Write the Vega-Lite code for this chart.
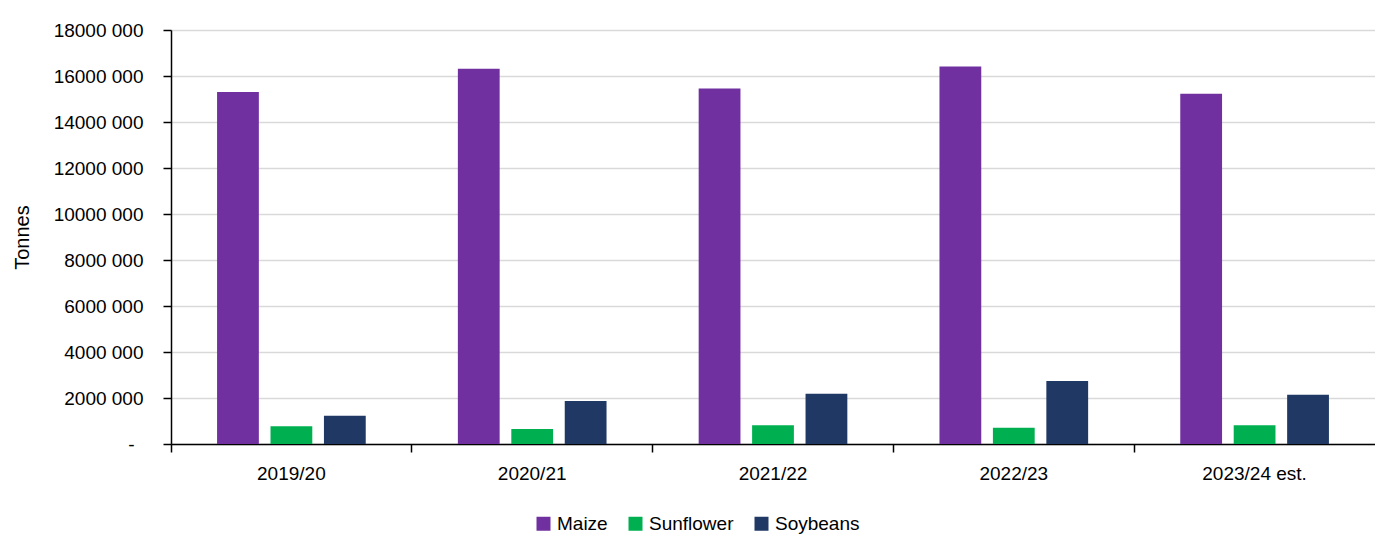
{
  "$schema": "https://vega.github.io/schema/vega-lite/v6.json",
  "autosize": "none",
  "width": 1204,
  "height": 414,
  "padding": {"left": 171, "top": 30, "right": 0, "bottom": 92},
  "background": "white",
  "config": {
    "view": {"stroke": null},
    "font": "Liberation Sans",
    "axis": {"labelFont": "Liberation Sans", "titleFont": "Liberation Sans", "labelColor": "#000000", "titleColor": "#000000", "titleFontWeight": "normal"},
    "legend": {"labelFont": "Liberation Sans", "padding": 0}
  },
  "data": {
    "values": [
      {"season": "2019/20", "crop": "Maize", "tonnes": 15300000},
      {"season": "2019/20", "crop": "Sunflower", "tonnes": 770000},
      {"season": "2019/20", "crop": "Soybeans", "tonnes": 1230000},
      {"season": "2020/21", "crop": "Maize", "tonnes": 16320000},
      {"season": "2020/21", "crop": "Sunflower", "tonnes": 650000},
      {"season": "2020/21", "crop": "Soybeans", "tonnes": 1870000},
      {"season": "2021/22", "crop": "Maize", "tonnes": 15460000},
      {"season": "2021/22", "crop": "Sunflower", "tonnes": 810000},
      {"season": "2021/22", "crop": "Soybeans", "tonnes": 2190000},
      {"season": "2022/23", "crop": "Maize", "tonnes": 16410000},
      {"season": "2022/23", "crop": "Sunflower", "tonnes": 710000},
      {"season": "2022/23", "crop": "Soybeans", "tonnes": 2740000},
      {"season": "2023/24 est.", "crop": "Maize", "tonnes": 15230000},
      {"season": "2023/24 est.", "crop": "Sunflower", "tonnes": 810000},
      {"season": "2023/24 est.", "crop": "Soybeans", "tonnes": 2140000}
    ]
  },
  "mark": {"type": "bar"},
  "encoding": {
    "x": {
      "field": "season",
      "type": "nominal",
      "sort": null,
      "scale": {"paddingInner": 0, "paddingOuter": 0},
      "axis": {
        "title": null,
        "labelAngle": 0,
        "labelFontSize": 19,
        "labelPadding": 12,
        "labelBaseline": "top",
        "bandPosition": 0,
        "tickSize": 8,
        "tickColor": "#000000",
        "tickWidth": 1.5,
        "domainColor": "#000000",
        "domainWidth": 1.5,
        "grid": false
      }
    },
    "xOffset": {
      "field": "crop",
      "type": "nominal",
      "sort": ["Maize", "Sunflower", "Soybeans"],
      "scale": {"paddingInner": 0.218, "paddingOuter": 0.862}
    },
    "y": {
      "field": "tonnes",
      "type": "quantitative",
      "scale": {"domain": [0, 18000000], "nice": false},
      "axis": {
        "title": "Tonnes",
        "titleFontSize": 20,
        "titleX": -149,
        "titleBaseline": "middle",
        "values": [0, 2000000, 4000000, 6000000, 8000000, 10000000, 12000000, 14000000, 16000000, 18000000],
        "labelExpr": "datum.value == 0 ? '-' : format(datum.value / 1000, 'd') + ' 000'",
        "labelFontSize": 19,
        "labelPadding": {"condition": {"test": "datum.value == 0", "value": 29}, "value": 20},
        "tickSize": 8,
        "tickColor": "#000000",
        "tickWidth": 1.5,
        "domainColor": "#000000",
        "domainWidth": 1.5,
        "grid": true,
        "gridColor": "#d9d9d9",
        "gridWidth": 1.3
      }
    },
    "color": {
      "field": "crop",
      "type": "nominal",
      "sort": ["Maize", "Sunflower", "Soybeans"],
      "scale": {"domain": ["Maize", "Sunflower", "Soybeans"], "range": ["#7030A0", "#00B050", "#203864"]},
      "legend": {
        "title": null,
        "orient": "none",
        "direction": "horizontal",
        "legendX": 363,
        "legendY": 484,
        "symbolType": "square",
        "symbolSize": 196,
        "symbolStrokeWidth": 0,
        "labelFontSize": 19,
        "labelOffset": 4,
        "columnPadding": 18,
        "labelColor": "#000000"
      }
    }
  }
}
